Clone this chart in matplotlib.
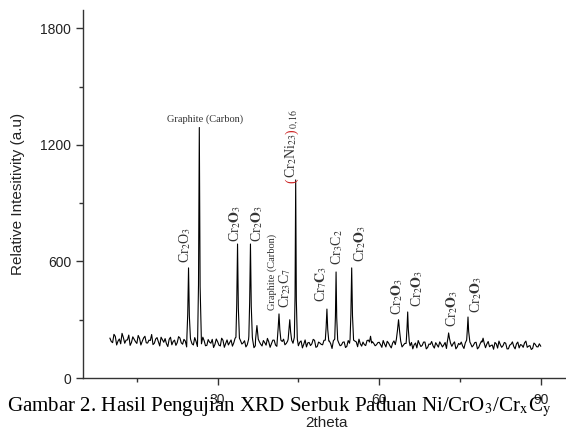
import numpy as np
import matplotlib
matplotlib.use("Agg")
import matplotlib.pyplot as plt
from matplotlib import transforms
from matplotlib.ticker import MultipleLocator

plt.rcParams['mathtext.fontset'] = 'stix'

# scan background (2theta 10..90, step 0.5)
base_theta = [10 + 0.5 * i for i in range(161)]
base_counts = [
    205, 182, 214, 190, 176, 208, 195, 221, 183, 199,
    178, 204, 189, 215, 180, 193, 172, 201, 186, 210,
    184, 176, 199, 171, 195, 182, 206, 174, 190, 179,
    197, 170, 188, 204, 176, 192, 168, 185, 199, 173,
    187, 165, 194, 178, 170, 196, 181, 167, 189, 175,
    192, 171, 184, 198, 166, 180, 174, 193, 169, 186,
    177, 195, 163, 182, 188, 171, 190, 168, 179, 185,
    166, 191, 174, 160, 183, 176, 194, 162, 180, 171,
    188, 165, 177, 192, 159, 181, 170, 186, 163, 179,
    174, 190, 161, 176, 185, 167, 195, 160, 178, 171,
    184, 158, 175, 189, 166, 180, 172, 162, 187, 169,
    178, 160, 183, 171, 155, 176, 168, 185, 157, 173,
    166, 182, 159, 174, 170, 152, 179, 163, 186, 160,
    172, 165, 181, 156, 177, 168, 184, 158, 190, 166,
    175, 161, 170, 183, 154, 172, 166, 179, 150, 174,
    162, 176, 155, 169, 181, 158, 167, 152, 173, 160,
    164,
]
# in-between scan points (10.25..89.75)
mid_theta = [10.25 + 0.5 * i for i in range(160)]
mid_counts = [
    188, 225, 170, 201, 230, 179, 196, 168, 212, 187,
    219, 170, 206, 181, 195, 224, 179, 208, 165, 197,
    203, 162, 210, 188, 168, 213, 181, 199, 160, 205,
    176, 208, 162, 190, 210, 166, 198, 179, 157, 201,
    169, 205, 158, 196, 183, 164, 205, 150, 193, 181,
    160, 199, 175, 156, 200, 187, 165, 182, 204, 158,
    195, 170, 186, 156, 200, 178, 160, 197, 172, 158,
    184, 155, 196, 181, 167, 199, 158, 185, 173, 194,
    162, 190, 152, 178, 197, 166, 184, 157, 193, 170,
    159, 186, 200, 164, 172, 193, 155, 187, 166, 182,
    172, 193, 160, 180, 155, 191, 167, 184, 160, 178,
    189, 166, 150, 180, 193, 162, 185, 150, 175, 188,
    154, 170, 186, 160, 183, 192, 158, 177, 150, 178,
    185, 152, 170, 191, 160, 182, 150, 176, 172, 156,
    188, 167, 148, 176, 190, 158, 183, 150, 169, 186,
    150, 185, 172, 158, 190, 164, 147, 180, 161, 176,
]

# peak profiles (2theta, counts)
peak_theta = [
    [24.3, 24.45, 24.6, 24.75, 24.95],
    [26.3, 26.45, 26.6, 26.75, 26.95],
    [33.4, 33.55, 33.7, 33.85, 34.05],
    [35.8, 35.95, 36.1, 36.25, 36.45],
    [37.05, 37.3, 37.55],
    [41.1, 41.25, 41.4, 41.55, 41.75],
    [43.1, 43.25, 43.4, 43.55, 43.75],
    [44.25, 44.38, 44.5, 44.62, 44.8],
    [50.0, 50.15, 50.3, 50.45, 50.65],
    [51.75, 51.88, 52.0, 52.12, 52.3],
    [54.6, 54.75, 54.9, 55.05, 55.25],
    [58.2, 58.4, 58.6],
    [63.2, 63.4, 63.6, 63.8, 64.0],
    [65.05, 65.18, 65.3, 65.42, 65.6],
    [72.65, 72.8, 72.9, 73.05, 73.25],
    [76.25, 76.38, 76.5, 76.62, 76.85],
    [79.1, 79.3, 79.5],
]
peak_counts = [
    [215, 330, 567, 320, 205],
    [220, 480, 1290, 470, 215],
    [210, 380, 690, 360, 205],
    [215, 390, 690, 370, 210],
    [200, 270, 200],
    [200, 260, 330, 250, 195],
    [200, 250, 300, 240, 195],
    [210, 420, 1020, 400, 200],
    [195, 260, 355, 250, 190],
    [200, 320, 546, 310, 195],
    [200, 330, 567, 320, 195],
    [185, 215, 180],
    [200, 245, 300, 240, 190],
    [195, 260, 340, 250, 185],
    [185, 210, 232, 205, 180],
    [195, 250, 314, 240, 185],
    [185, 205, 180],
]

# phase labels: text, 2theta, counts at label foot
label_text = [
    r'Cr$_2$O$_3$', 'Graphite (Carbon)', r'Cr$_2\mathbf{O}_3$', r'Cr$_2\mathbf{O}_3$',
    'Graphite (Carbon)', r'Cr$_{23}$C$_7$', None, r'Cr$_7\mathbf{C}_3$',
    r'Cr$_3$C$_2$', r'Cr$_2\mathbf{O}_3$', r'Cr$_2\mathbf{O}_3$', r'Cr$_2\mathbf{O}_3$',
    r'Cr$_2\mathbf{O}_3$', r'Cr$_2\mathbf{O}_3$',
]
label_theta = [23.9, 27.6, 33.3, 37.4, 40.2, 42.6, 43.9, 49.3, 52.1, 56.4, 63.3, 67.0, 73.5, 78.0]
label_y = [592, 1334, 700, 700, 350, 360, 1004, 391, 582, 597, 324, 366, 263, 335]

# merge peaks into the background trace
theta, counts = [], []
for t, c in zip(base_theta + mid_theta, base_counts + mid_counts):
    if any(p[0] <= t <= p[-1] for p in peak_theta):
        continue
    theta.append(t)
    counts.append(c)
for pt, pc in zip(peak_theta, peak_counts):
    theta += pt
    counts += pc
order = np.argsort(theta)
theta = np.array(theta)[order]
counts = np.array(counts)[order]

fig = plt.figure(figsize=(5.66, 4.33), dpi=100)
ax = fig.add_axes([83 / 566, 55 / 433, 483 / 566, 368 / 433])
ax.plot(theta, counts, color='black', lw=0.8)

ax.set_xlim(5, 94.7)
ax.set_ylim(0, 1895)
ax.xaxis.set_major_locator(MultipleLocator(30))
ax.xaxis.set_minor_locator(MultipleLocator(15))
ax.yaxis.set_major_locator(MultipleLocator(600))
ax.yaxis.set_minor_locator(MultipleLocator(300))
for s in ['top', 'right']:
    ax.spines[s].set_visible(False)
for s in ['left', 'bottom']:
    ax.spines[s].set_color('#333333')
    ax.spines[s].set_linewidth(1.0)
ax.tick_params(which='major', direction='out', length=5, width=1, color='#333333',
               labelsize=10, labelcolor='#222222')
ax.tick_params(which='minor', direction='out', length=3, width=1, color='#333333')
ax.tick_params(axis='x', pad=6)
for lbl in ax.get_xticklabels() + ax.get_yticklabels():
    lbl.set_family('Liberation Sans')

lab_kw = dict(family='Liberation Serif', color='#333333')
for txt, x, y in zip(label_text, label_theta, label_y):
    if txt is None:
        continue
    if txt == 'Graphite (Carbon)' and y > 1000:
        ax.text(x, y, txt, fontsize=7.5, ha='center', va='center', **lab_kw)
    elif txt == 'Graphite (Carbon)':
        ax.text(x, y, txt, fontsize=7.5, rotation=90, ha='center', va='bottom', **lab_kw)
    else:
        ax.text(x, y, txt, fontsize=10, rotation=90, ha='center', va='bottom', **lab_kw)

# (Cr2Ni23)0,16 with red brackets, built piece by piece along the baseline
renderer = fig.canvas.get_renderer()
pieces = [('(', '#cc2222'), (r'Cr$_2$Ni$_{23}$', '#333333'), (')', '#cc2222'),
          (r'$_{0,16}$', '#333333')]
offset = 0
for s, c in pieces:
    tr = transforms.offset_copy(ax.transData, fig=fig, x=3, y=offset, units='dots')
    t = ax.text(label_theta[6], label_y[6], s, color=c, fontsize=10, rotation=90,
                rotation_mode='anchor', ha='left', va='baseline', transform=tr,
                family='Liberation Serif')
    offset += t.get_window_extent(renderer).height

fig.text(18 / 566, 1 - 194 / 433, 'Relative Intesitivity (a.u)', rotation=90,
         ha='center', va='center', fontsize=11, family='Liberation Sans', color='#222222')
fig.text(326 / 566, 1 - 423 / 433, '2theta', ha='center', va='center',
         fontsize=11, family='Liberation Sans', color='#222222')
fig.text(279 / 566, 1 - 407 / 433,
         r'Gambar 2. Hasil Pengujian XRD Serbuk Paduan Ni/CrO$_3$/Cr$_\mathrm{x}$C$_\mathrm{y}$',
         ha='center', va='center', fontsize=15.1, family='Liberation Serif', color='black')

fig.savefig('out.png', dpi=100)
